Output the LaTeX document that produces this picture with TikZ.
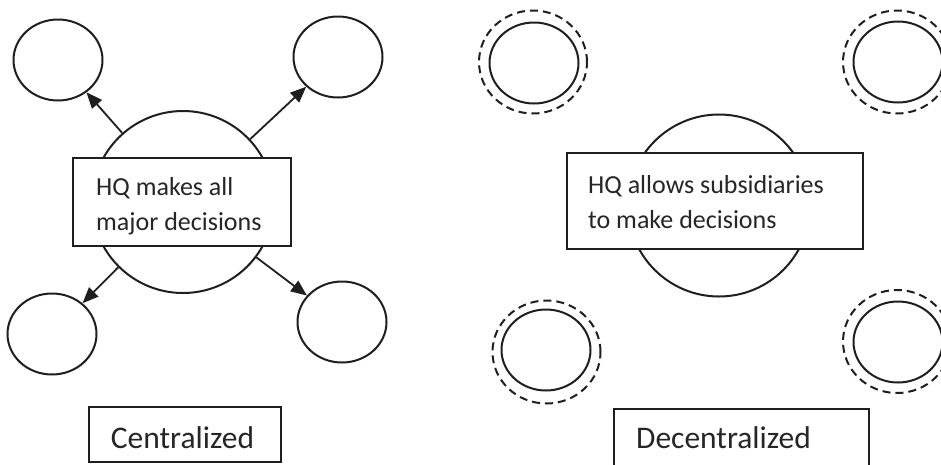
\documentclass[tikz,border=0pt]{standalone}
\usepackage{fontspec}
\setmainfont{Carlito}
\usetikzlibrary{arrows.meta,shapes.geometric}
\begin{document}
\begin{tikzpicture}[x=1pt,y=-1pt,
  outline/.style={draw=black!88, line width=2pt},
  hub/.style={outline, circle, minimum size=182pt, inner sep=0pt},
  unit/.style={outline, ellipse, minimum width=89pt, minimum height=81pt, inner sep=0pt},
  ring/.style={draw=black!88, line width=2pt, dash pattern=on 8pt off 5pt, ellipse,
    minimum width=108pt, minimum height=103pt, inner sep=0pt},
  panel/.style={outline, fill=white, rectangle, inner sep=0pt},
  note/.style={font=\fontsize{26}{35}\selectfont, align=left, inner sep=0pt, text=black!85},
  caption/.style={font=\fontsize{31.5}{36}\selectfont, inner sep=0pt, text=black!85},
  push/.style={line width=1.8pt, draw=black!88, -{Triangle[length=16pt,width=13pt]}}]
\useasboundingbox (0,0) rectangle (941,464);
\fill[white] (0,0) rectangle (941,464);
\clip (0,0) rectangle (941,464);

% ---- centralized structure ----
\node[hub] (chq) at (183,202) {};
\node[unit] (ca) at (58,60) {};
\node[unit] (cb) at (338,57) {};
\node[unit] (cc) at (52,334) {};
\node[unit] (cd) at (342,322) {};
\draw[push] (chq) -- (ca);
\draw[push] (chq) -- (cb);
\draw[push] (chq) -- (cc);
\draw[push] (chq) -- (cd);
\node[panel, minimum width=218pt, minimum height=88pt] (cbox) at (182,202) {};
\node[note, anchor=west] (ctext) at (96,206) {HQ makes all\\major decisions};
\node[panel, minimum width=192pt, minimum height=55pt] (clabelbox) at (185,434.5) {};
\node[caption, anchor=base] (clabel) at (182.5,448) {Centralized};

% ---- decentralized structure ----
\node[hub] (dhq) at (719,205.5) {};
\node[unit] (da) at (534,63) {};
\node[ring] (dar) at (533,62) {};
\node[unit] (db) at (898,62) {};
\node[ring] (dbr) at (897,62) {};
\node[unit] (dc) at (546,350) {};
\node[ring] (dcr) at (546.5,352) {};
\node[unit] (dd) at (898,342) {};
\node[ring] (ddr) at (897,341.5) {};
\node[panel, minimum width=296pt, minimum height=96pt] (dbox) at (715,201) {};
\node[note, anchor=west] (dtext) at (588,202) {HQ allows subsidiaries\\to make decisions};
\node[panel, minimum width=255pt, minimum height=70pt] (dlabelbox) at (741.5,444) {};
\node[caption, anchor=base] (dlabel) at (723.5,448) {Decentralized};
\end{tikzpicture}
\end{document}
